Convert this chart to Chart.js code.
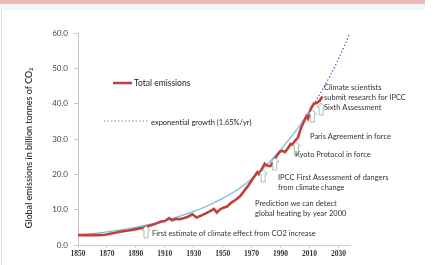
<!DOCTYPE html>
<html>
<head>
<meta charset="utf-8">
<script src="https://cdn.jsdelivr.net/npm/chart.js@4.4.1/dist/chart.umd.min.js"></script>
<style>
  body { margin: 0; background: #fff; }
  #wrap { width: 444px; height: 265px; }
</style>
</head>
<body>
<div id="wrap"><canvas id="myChart" width="444" height="265"></canvas></div>
<script>
// data block
const emissionYears = [1850, 1855, 1860, 1865, 1869, 1872, 1875, 1880, 1885, 1890, 1895, 1900, 1903, 1907, 1910, 1913, 1915, 1918, 1920, 1923, 1926, 1929, 1932, 1935, 1938, 1941, 1944, 1946, 1948, 1950, 1953, 1956, 1959, 1962, 1965, 1968, 1971, 1974, 1975, 1977, 1979, 1981, 1983, 1985, 1987, 1989, 1991, 1993, 1995, 1997, 1998, 2000, 2002, 2004, 2006, 2008, 2009, 2011, 2013, 2015, 2017, 2019];
const emissionValues = [2.8, 2.8, 2.8, 2.8, 2.9, 3.2, 3.4, 3.8, 4.1, 4.5, 4.9, 5.5, 5.9, 6.6, 6.8, 7.6, 7.0, 7.4, 7.3, 7.6, 8.0, 8.7, 7.8, 8.3, 8.9, 9.5, 10.2, 9.2, 10.0, 10.5, 10.9, 12.0, 12.8, 13.8, 15.4, 17.0, 18.9, 20.6, 20.1, 21.5, 23.0, 22.4, 22.3, 23.8, 25.0, 26.2, 26.7, 26.3, 27.3, 28.6, 28.4, 29.5, 30.4, 33.0, 34.8, 36.5, 35.8, 38.6, 40.0, 40.2, 40.8, 42.0];

const growthYears = [1850, 1860, 1870, 1880, 1890, 1900, 1910, 1920, 1930, 1940, 1950, 1960, 1970, 1980, 1990, 2000, 2010, 2020, 2030, 2038];
const growthValues = [2.8, 3.2, 3.7, 4.3, 5.0, 5.9, 6.9, 8.1, 9.5, 11.2, 13.2, 15.6, 18.7, 22.5, 27.0, 32.0, 38.0, 44.7, 52.6, 60.0];

const xTickYears = [1850, 1870, 1890, 1910, 1930, 1950, 1970, 1990, 2010, 2030];
const yTickValues = [0, 10, 20, 30, 40, 50, 60];

const eventYears = [1897, 1978, 1986, 2001, 2012, 2018];
const eventLabels = [
    ['First estimate of climate effect from CO2 increase'],
    ['Prediction we can detect', 'global heating by year 2000'],
    ['IPCC First Assessment of dangers', 'from climate change'],
    ['Kyoto Protocol in force'],
    ['Paris Agreement in force'],
    ['Climate scientists', 'submit research for IPCC', 'Sixth Assessment']
];

const RED = '#c0403f';
const BLUE = '#5b9bd5';
const TEXT_FONT = '7.5px Lato, "Open Sans", sans-serif';

// drawing helpers
function upArrow(ctx, x, yTop, yBottom){
    const w = 2, hw = 4, head = 4;
    ctx.beginPath();
    ctx.moveTo(x, yTop);
    ctx.lineTo(x + hw, yTop + head);
    ctx.lineTo(x + w, yTop + head);
    ctx.lineTo(x + w, yBottom);
    ctx.lineTo(x - w, yBottom);
    ctx.lineTo(x - w, yTop + head);
    ctx.lineTo(x - hw, yTop + head);
    ctx.closePath();
    ctx.fillStyle = '#fff';
    ctx.fill();
    ctx.strokeStyle = '#9aaba5';
    ctx.lineWidth = 0.8;
    ctx.stroke();
}

const frame = {
    id: 'frame',
    beforeDraw(chart){
        const ctx = chart.ctx;
        ctx.save();
        ctx.fillStyle = '#fff';
        ctx.fillRect(0, 0, 444, 265);
        ctx.fillStyle = '#f0b8b8';
        ctx.fillRect(0, 0, 425, 4);
        ctx.fillStyle = '#f2f6f9';
        ctx.fillRect(0, 4, 425, 6);
        ctx.strokeStyle = '#dcdcdc';
        ctx.lineWidth = 1;
        ctx.beginPath();
        ctx.moveTo(1.5, 10);
        ctx.lineTo(1.5, 265);
        ctx.stroke();
        ctx.restore();
    },
    afterDraw(chart){
        const ctx = chart.ctx;
        const xs = chart.scales.x;
        ctx.save();

        // y axis title
        ctx.translate(29, 148);
        ctx.rotate(-Math.PI / 2);
        ctx.fillStyle = '#333';
        ctx.font = '600 9px Lato, "Open Sans", sans-serif';
        ctx.textAlign = 'center';
        ctx.textBaseline = 'middle';
        ctx.fillText('Global emissions in billion tonnes of CO\u2082', 0, 0);
        ctx.setTransform(1, 0, 0, 1, 0, 0);

        // legend
        ctx.strokeStyle = RED;
        ctx.lineWidth = 2.5;
        ctx.beginPath();
        ctx.moveTo(113, 83);
        ctx.lineTo(132, 83);
        ctx.stroke();
        ctx.strokeStyle = BLUE;
        ctx.lineWidth = 1.2;
        ctx.setLineDash([1.5, 2]);
        ctx.beginPath();
        ctx.moveTo(104, 121);
        ctx.lineTo(148, 121);
        ctx.stroke();
        ctx.setLineDash([]);
        ctx.fillStyle = '#222';
        ctx.textAlign = 'left';
        ctx.textBaseline = 'middle';
        ctx.font = '8.5px Lato, "Open Sans", sans-serif';
        ctx.fillText('Total emissions', 134, 83);
        ctx.font = '7.5px Lato, "Open Sans", sans-serif';
        ctx.fillText('exponential growth (1.65%/yr)', 151, 123);

        // event arrows
        const arrowSpans = [[226, 238], [170, 182], [158, 170], [142, 155], [110, 122], [103, 115]];
        eventYears.forEach((yr, i) => {
            upArrow(ctx, xs.getPixelForValue(yr), arrowSpans[i][0], arrowSpans[i][1]);
        });

        // event texts
        const textSpots = [[152, 234], [255, 204], [278, 178], [295, 155], [310, 137], [324, 88]];
        ctx.font = TEXT_FONT;
        ctx.fillStyle = '#333';
        eventLabels.forEach((lines, i) => {
            lines.forEach((t, j) => {
                ctx.fillText(t, textSpots[i][0], textSpots[i][1] + j * 10);
            });
        });
        ctx.restore();
    }
};

const ctx = document.getElementById('myChart').getContext('2d');
const myChart = new Chart(ctx, {
    type: 'line',
    data: {
        datasets: [{
            label: 'Total emissions',
            data: emissionYears.map((yr, i) => ({x: yr, y: emissionValues[i]})),
            borderColor: RED,
            borderWidth: 2.6,
            pointRadius: 0,
            tension: 0
        }, {
            label: 'exponential growth (1.65%/yr)',
            data: growthYears.map((yr, i) => ({x: yr, y: growthValues[i]})),
            borderColor: BLUE,
            borderWidth: 1.2,
            pointRadius: 0,
            cubicInterpolationMode: 'monotone',
            segment: {
                borderDash: c => c.p0.parsed.x >= 2010 ? [1.5, 2] : undefined,
                borderColor: c => c.p0.parsed.x >= 2010 ? '#4a6cc0' : '#72bde0'
            }
        }]
    },
    options: {
        responsive: false,
        animation: false,
        layout: { padding: { left: 0, top: 33, right: 94, bottom: 0 } },
        plugins: { legend: { display: false }, tooltip: { enabled: false } },
        scales: {
            x: {
                type: 'linear',
                min: 1850,
                max: 2038,
                afterBuildTicks: s => { s.ticks = xTickYears.map(v => ({value: v})); },
                afterFit: s => { s.height = 20; },
                grid: { drawOnChartArea: false, tickLength: 3, color: '#cfcfcf' },
                border: { color: '#cfcfcf' },
                ticks: {
                    maxRotation: 0,
                    padding: 2,
                    color: '#333',
                    font: { family: '"Liberation Serif", serif', size: 7.5, weight: 'bold' },
                    callback: v => String(v)
                }
            },
            y: {
                min: 0,
                max: 60,
                afterBuildTicks: s => { s.ticks = yTickValues.map(v => ({value: v})); },
                afterFit: s => { s.width = 78; },
                grid: { drawOnChartArea: false, tickLength: 4, color: '#c8c8c8' },
                border: { color: '#c8c8c8' },
                ticks: {
                    padding: 6,
                    color: '#444',
                    font: { family: 'Lato, "Open Sans", sans-serif', size: 8 },
                    callback: v => v.toFixed(1)
                }
            }
        }
    },
    plugins: [frame]
});
</script>
</body>
</html>
